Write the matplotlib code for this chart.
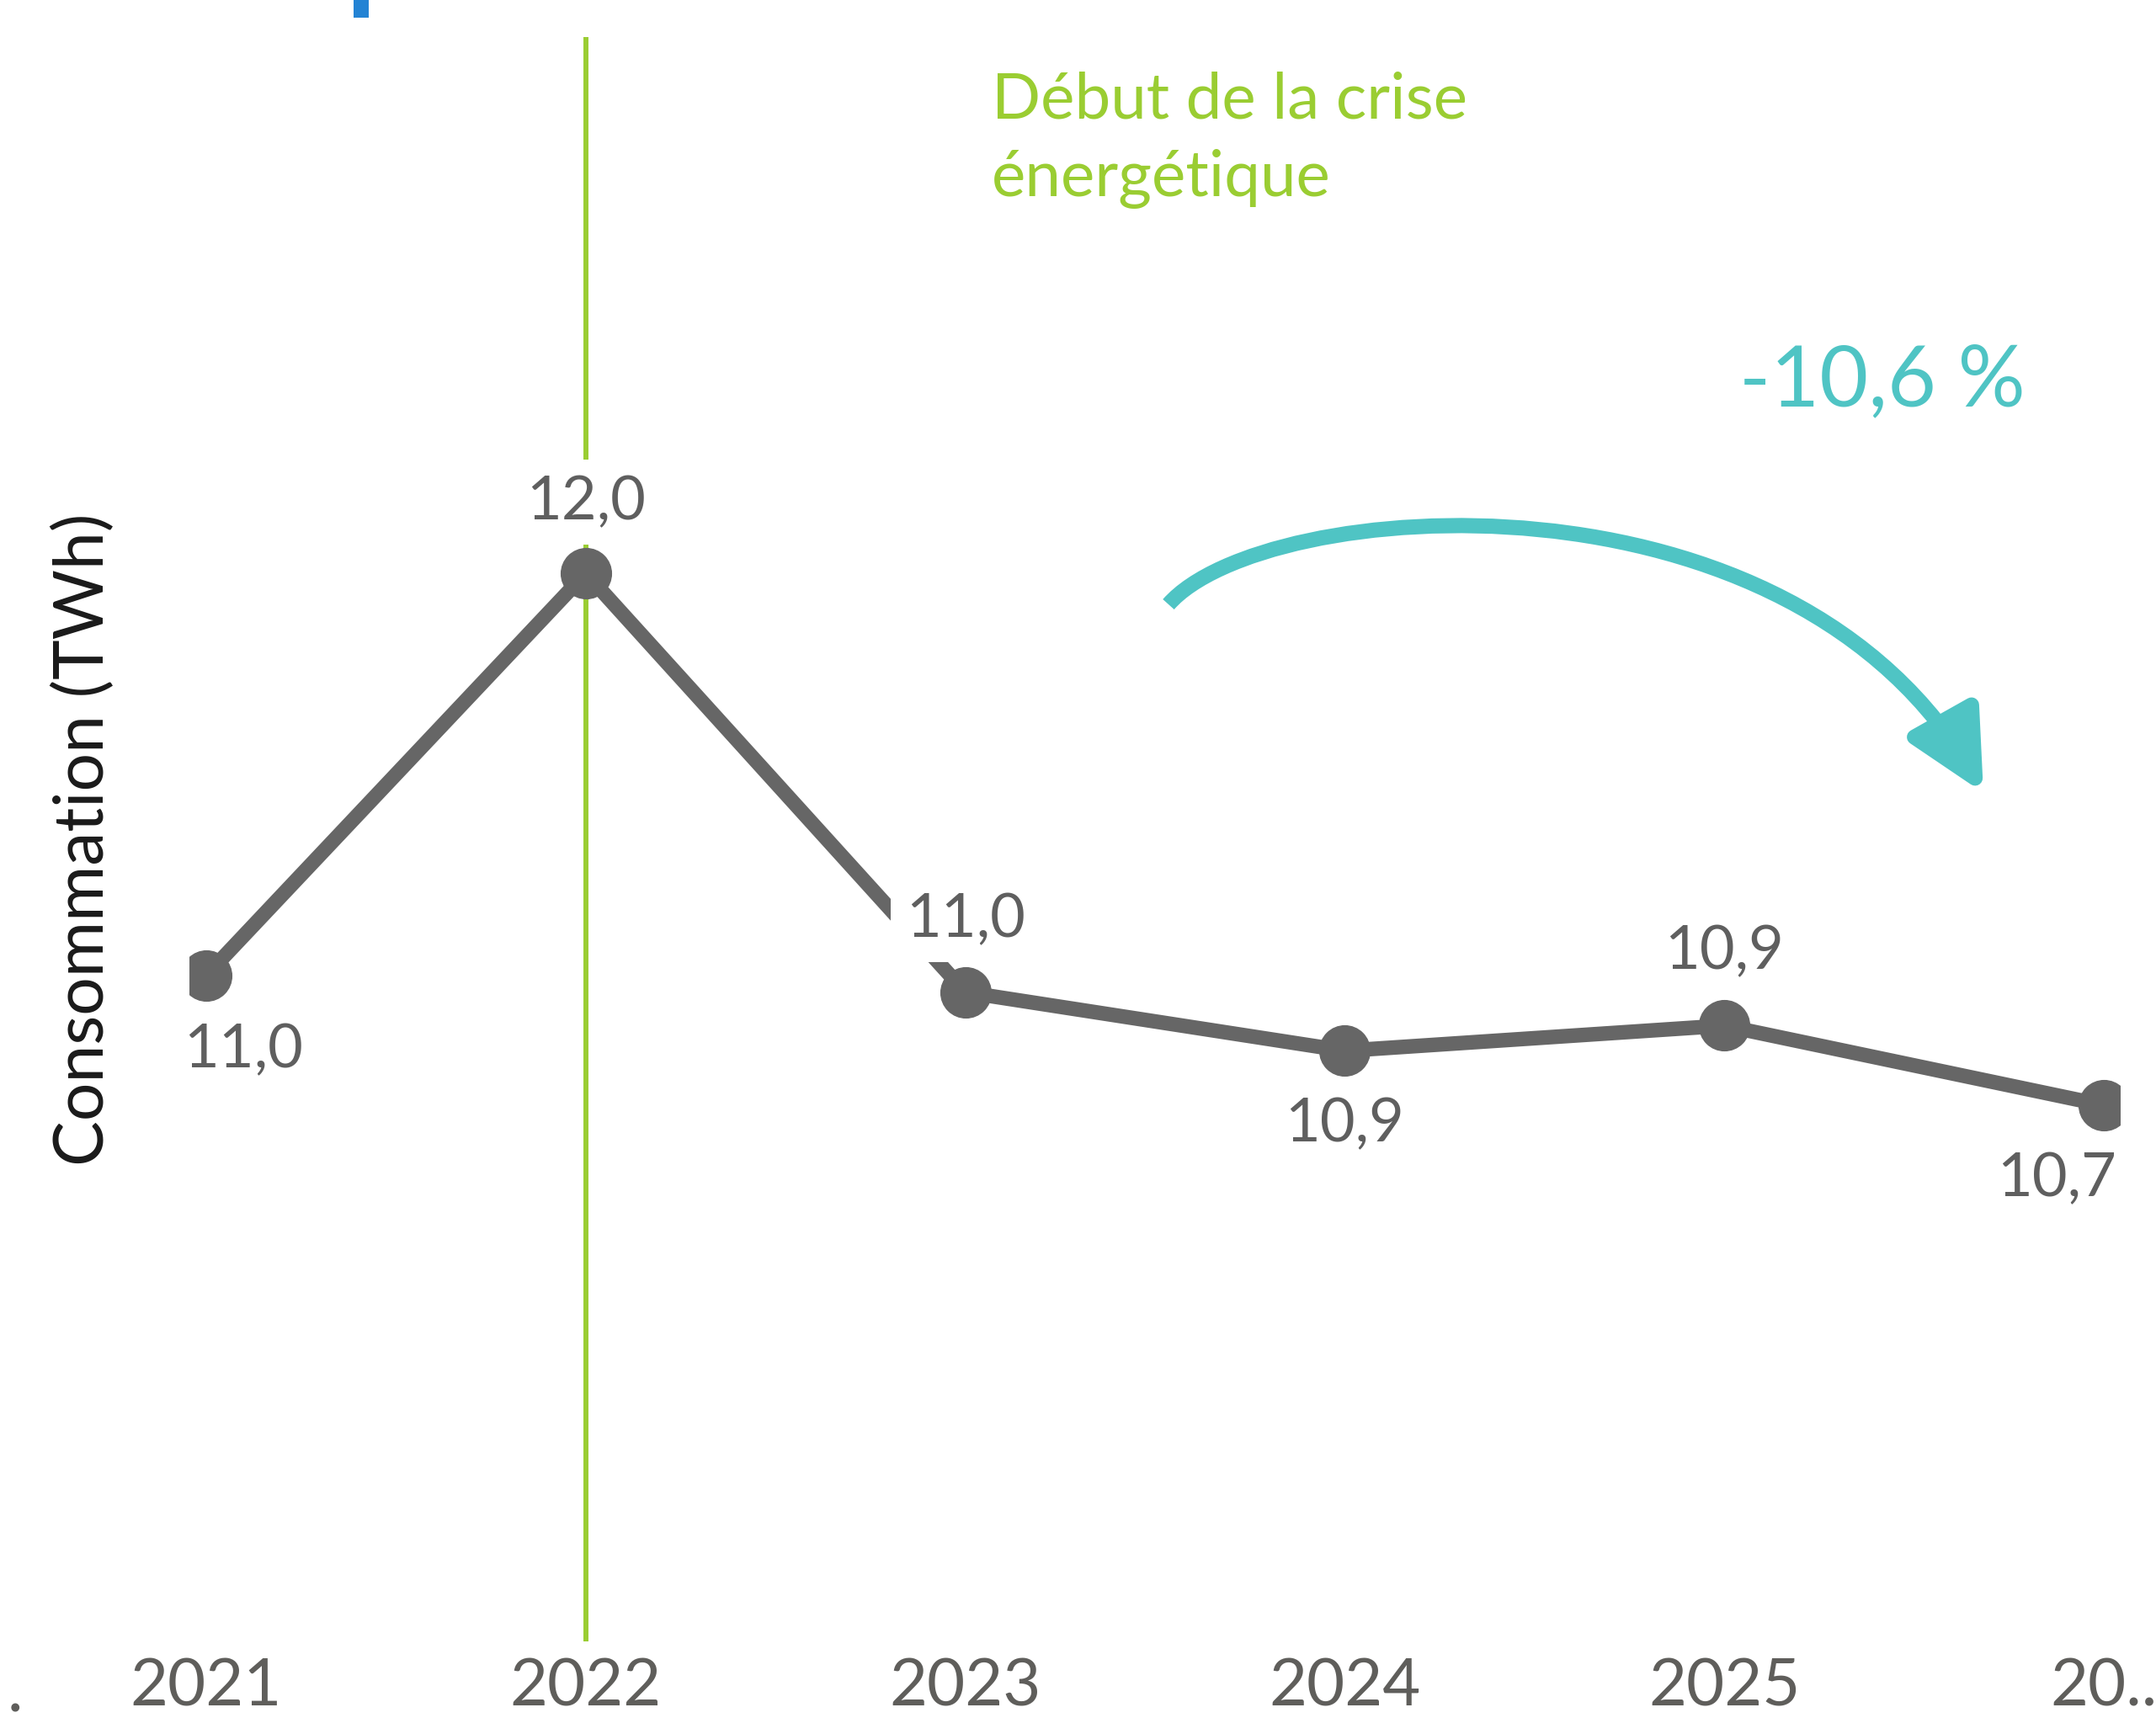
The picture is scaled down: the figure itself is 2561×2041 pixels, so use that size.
import numpy as np
import matplotlib.pyplot as plt
from matplotlib.patches import FancyArrowPatch, Rectangle
from matplotlib.path import Path

# data
years = [2021, 2022, 2023, 2024, 2025, 2026]
conso = [11.04, 12.0, 11.0, 10.86, 10.92, 10.73]
value_labels = ['11,0', '12,0', '11,0', '10,9', '10,9', '10,7']
tick_labels = ['2021', '2022', '2023', '2024', '2025', '20..']
crisis_year = 2022
crisis_text = 'Début de la crise\nénergétique'
change_text = '-10,6 %'
y_title = 'Consommation (TWh)'

plt.rcParams['font.family'] = ['Lato', 'DejaVu Sans']

W, H = 2561, 2041
fig = plt.figure(figsize=(W / 100, H / 100), dpi=100)


def box(x0, y0, x1, y1):
    # pixel box (top-left origin) -> figure fraction rect
    return [x0 / W, 1 - y1 / H, (x1 - x0) / W, (y1 - y0) / H]


def fpt(x, y):
    return (x / W, 1 - y / H)


ax = fig.add_axes(box(225, 44, 2518, 1950))

GRAY = '#666666'
LABEL = '#5f5f5f'
GREEN = '#9ACD32'
TEAL = '#4FC4C4'

ax.axvline(crisis_year, color=GREEN, lw=4.3, zorder=1)
ax.plot(years, conso, color=GRAY, lw=12.5, marker='o', ms=43, zorder=3)

# label offsets in points (x, y)
offsets = [(32, -64), (0, 61), (0, 62), (0, -63), (0, 63), (-40, -63)]
for x, y, lbl, off in zip(years, conso, value_labels, offsets):
    ax.annotate(lbl, (x, y), xytext=off, textcoords='offset points',
                ha='center', va='center', fontsize=52, color=LABEL,
                bbox=dict(boxstyle='square,pad=0.25', fc='white', ec='none'),
                zorder=4)

ax.set_xlim(2020.9556, 2026.042)
ax.set_ylim(9.450, 13.280)
ax.set_xticks(years, tick_labels)
ax.set_yticks([])
ax.tick_params(axis='x', length=0, pad=14, labelsize=56, labelcolor='#5f5e5b')
for s in ax.spines.values():
    s.set_visible(False)
ax.set_ylabel(y_title, fontsize=58, color='#1a1a1a')
ax.yaxis.set_label_coords(-0.0384, 0.5)

# annotations
fig.text(*fpt(1178, 233), crisis_text, color=GREEN, fontsize=55,
         ha='left', va='baseline', linespacing=1.42)
fig.text(*fpt(2236, 482), change_text, color=TEAL, fontsize=72,
         ha='center', va='baseline')
fig.text(*fpt(18, 2033), '.', color='#5f5e5b', fontsize=56,
         ha='center', va='baseline')

verts = [fpt(1388, 718), fpt(1500, 590), fpt(2130, 540), fpt(2356, 942)]
curve = Path(verts, [Path.MOVETO, Path.CURVE4, Path.CURVE4, Path.CURVE4])
arrow = FancyArrowPatch(path=curve, transform=fig.transFigure,
                        arrowstyle='-|>,head_length=56,head_width=28',
                        color=TEAL, lw=13, capstyle='butt')
fig.add_artist(arrow)

fig.add_artist(Rectangle(fpt(420, 21), 18 / W, 21 / H, transform=fig.transFigure,
                         color='#2383D4', lw=0))

fig.savefig('out.png', dpi=100)
